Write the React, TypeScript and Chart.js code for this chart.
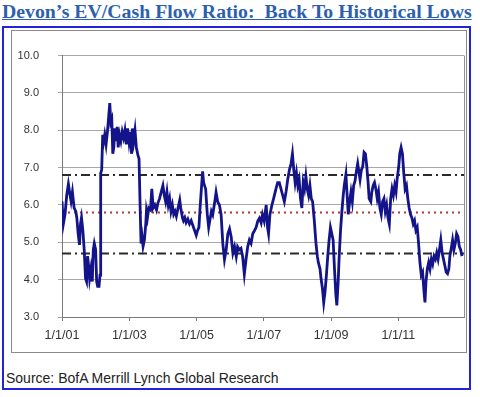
import React, { useEffect, useRef } from "react";
import { Chart, registerables } from "chart.js";

Chart.register(...registerables);

const titleText = "Devon’s EV/Cash Flow Ratio:  Back To Historical Lows";
const sourceText = "Source: BofA Merrill Lynch Global Research";

const tickYears = [2001, 2003, 2005, 2007, 2009, 2011];
const tickLabels = ["1/1/01", "1/1/03", "1/1/05", "1/1/07", "1/1/09", "1/1/11"];
const xMin = 2001;
const xMax = 2012.95;
const yMin = 3;
const yMax = 10;

const upperBand = 6.8;
const meanLevel = 5.8;
const lowerBand = 4.7;

const dates = [
  2001.0, 2001.04, 2001.09, 2001.14, 2001.19, 2001.24, 2001.27, 2001.31, 2001.36, 2001.41,
  2001.44, 2001.48, 2001.52, 2001.55, 2001.58, 2001.62, 2001.66, 2001.7, 2001.73, 2001.76,
  2001.79, 2001.82, 2001.86, 2001.9, 2001.93, 2001.96, 2002.0, 2002.03, 2002.06, 2002.1,
  2002.13, 2002.15, 2002.18, 2002.21, 2002.24, 2002.27, 2002.31, 2002.35, 2002.39, 2002.42,
  2002.45, 2002.48, 2002.51, 2002.54, 2002.57, 2002.6, 2002.64, 2002.67, 2002.71, 2002.75,
  2002.79, 2002.83, 2002.87, 2002.91, 2002.95, 2002.99, 2003.02, 2003.07, 2003.09, 2003.13,
  2003.17, 2003.21, 2003.26, 2003.29, 2003.33, 2003.35, 2003.38, 2003.41, 2003.45, 2003.49,
  2003.51, 2003.54, 2003.58, 2003.63, 2003.67, 2003.71, 2003.76, 2003.81, 2003.85, 2003.9,
  2003.95, 2004.0, 2004.04, 2004.08, 2004.12, 2004.16, 2004.2, 2004.24, 2004.28, 2004.32,
  2004.36, 2004.4, 2004.45, 2004.5, 2004.53, 2004.58, 2004.61, 2004.65, 2004.69, 2004.74,
  2004.79, 2004.84, 2004.89, 2004.94, 2004.99, 2005.03, 2005.07, 2005.11, 2005.15, 2005.18,
  2005.21, 2005.27, 2005.32, 2005.36, 2005.44, 2005.48, 2005.54, 2005.58, 2005.63, 2005.68,
  2005.73, 2005.78, 2005.83, 2005.88, 2005.93, 2005.98, 2006.03, 2006.08, 2006.13, 2006.18,
  2006.22, 2006.27, 2006.32, 2006.37, 2006.42, 2006.47, 2006.52, 2006.57, 2006.62, 2006.67,
  2006.72, 2006.77, 2006.82, 2006.87, 2006.92, 2006.96, 2007.01, 2007.07, 2007.11, 2007.14,
  2007.18, 2007.24, 2007.29, 2007.36, 2007.41, 2007.46, 2007.51, 2007.56, 2007.61, 2007.66,
  2007.71, 2007.76, 2007.81, 2007.85, 2007.89, 2007.93, 2007.97, 2008.01, 2008.05, 2008.09,
  2008.13, 2008.17, 2008.21, 2008.25, 2008.29, 2008.33, 2008.37, 2008.41, 2008.45, 2008.5,
  2008.55, 2008.59, 2008.62, 2008.67, 2008.7, 2008.74, 2008.78, 2008.82, 2008.86, 2008.9,
  2008.94, 2008.98, 2009.02, 2009.06, 2009.1, 2009.14, 2009.17, 2009.21, 2009.24, 2009.28,
  2009.32, 2009.36, 2009.39, 2009.44, 2009.47, 2009.51, 2009.55, 2009.59, 2009.63, 2009.67,
  2009.71, 2009.75, 2009.79, 2009.86, 2009.9, 2009.94, 2009.98, 2010.02, 2010.06, 2010.1,
  2010.13, 2010.18, 2010.21, 2010.25, 2010.29, 2010.33, 2010.37, 2010.41, 2010.45, 2010.49,
  2010.53, 2010.57, 2010.61, 2010.65, 2010.69, 2010.73, 2010.77, 2010.81, 2010.85, 2010.89,
  2010.93, 2010.96, 2011.01, 2011.04, 2011.08, 2011.12, 2011.16, 2011.2, 2011.24, 2011.28,
  2011.32, 2011.36, 2011.4, 2011.44, 2011.48, 2011.52, 2011.56, 2011.6, 2011.64, 2011.68,
  2011.72, 2011.76, 2011.79, 2011.82, 2011.86, 2011.9, 2011.94, 2011.98, 2012.02, 2012.06,
  2012.1, 2012.14, 2012.18, 2012.22, 2012.26, 2012.3, 2012.34, 2012.38, 2012.42, 2012.46,
  2012.5, 2012.53, 2012.58, 2012.61, 2012.65, 2012.69, 2012.73, 2012.77, 2012.81, 2012.85,
  2012.89,
];

const evCashFlow = [
  6.1, 5.49, 5.75, 6.26, 6.56, 6.26, 6.1, 6.35, 5.92, 5.83,
  5.66, 5.23, 4.93, 5.49, 5.66, 5.32, 4.8, 4.03, 3.95, 4.63,
  4.38, 4.03, 4.29, 3.95, 4.8, 4.97, 4.8, 3.95, 3.82, 3.82,
  4.12, 6.85, 6.94, 7.88, 7.71, 7.88, 7.62, 7.96, 8.39, 8.73,
  8.22, 8.3, 7.37, 7.54, 8.05, 7.71, 8.09, 7.54, 7.88, 7.71,
  7.96, 7.8, 8.0, 7.62, 8.05, 7.71, 7.96, 7.37, 8.05, 7.71,
  8.0, 7.54, 7.32, 7.24, 5.66, 4.97, 5.15, 4.89, 5.06, 5.49,
  5.83, 5.66, 5.92, 5.87, 6.43, 5.92, 6.0, 5.87, 6.05, 6.17,
  6.35, 6.52, 6.26, 6.09, 6.35, 6.0, 6.17, 5.83, 6.0, 5.75,
  5.83, 5.7, 5.92, 6.13, 5.92, 5.66, 5.58, 5.66, 5.53, 5.62,
  5.49, 5.58, 5.45, 5.32, 5.19, 5.32, 5.4, 6.0, 6.52, 6.9,
  6.6, 6.43, 5.74, 5.4, 5.83, 5.74, 6.08, 6.34, 6.08, 6.0,
  5.74, 4.97, 4.54, 4.8, 5.23, 5.36, 5.14, 4.71, 4.88, 4.62,
  4.88, 4.8, 4.84, 4.62, 4.15, 4.54, 4.88, 5.06, 4.97, 5.23,
  5.31, 5.4, 5.57, 5.65, 5.52, 5.74, 5.57, 6.0, 5.4, 5.23,
  5.74, 6.0, 6.17, 6.43, 6.6, 6.6, 6.43, 6.26, 6.09, 6.35,
  6.68, 6.94, 7.11, 7.37, 6.94, 6.6, 6.85, 6.52, 6.68, 6.17,
  5.92, 6.6, 6.43, 6.77, 6.43, 6.26, 6.52, 6.17, 6.09, 5.58,
  4.97, 4.63, 4.46, 4.29, 4.03, 3.78, 3.39, 3.69, 4.12, 4.63,
  5.06, 5.4, 5.23, 5.06, 4.29, 3.61, 3.31, 3.95, 4.63, 5.32,
  5.83, 6.26, 6.52, 6.82, 6.35, 5.75, 6.09, 6.35, 6.09, 6.52,
  6.64, 6.9, 7.11, 6.68, 6.94, 7.03, 7.41, 7.37, 7.03, 6.6,
  6.17, 6.09, 6.35, 6.52, 6.6, 6.43, 6.17, 6.35, 5.92, 5.75,
  6.09, 6.17, 5.83, 6.0, 5.66, 5.49, 6.17, 6.43, 6.26, 6.52,
  6.35, 6.68, 7.03, 7.37, 7.54, 7.37, 6.85, 6.43, 6.52, 6.17,
  5.92, 5.75, 5.66, 5.49, 5.58, 5.32, 5.4, 4.97, 4.46, 4.12,
  4.2, 3.69, 3.39, 3.95, 4.29, 4.46, 4.29, 4.55, 4.42, 4.63,
  4.55, 4.72, 4.55, 4.8, 5.06, 4.72, 4.55, 4.38, 4.2, 4.16,
  4.29, 4.63, 4.89, 5.06, 4.8, 4.97, 5.23, 5.15, 4.89, 4.8,
  4.63,
];

const rightBorderPlugin = {
  id: "rightBorder",
  beforeDatasetsDraw(chart: any) {
    const { ctx, chartArea } = chart;
    ctx.save();
    ctx.strokeStyle = "#8f8f8f";
    ctx.lineWidth = 1;
    ctx.beginPath();
    ctx.moveTo(Math.round(chartArea.right) + 0.5, chartArea.top);
    ctx.lineTo(Math.round(chartArea.right) + 0.5, chartArea.bottom);
    ctx.stroke();
    ctx.restore();
  },
};

export default function App() {
  const canvasRef = useRef<HTMLCanvasElement | null>(null);

  useEffect(() => {
    if (!canvasRef.current) return;
    const series = dates.map((d, i) => ({ x: d, y: evCashFlow[i] }));
    const band = (v: number) => [
      { x: xMin, y: v },
      { x: xMax, y: v },
    ];
    const chart = new Chart(canvasRef.current, {
      type: "line",
      data: {
        datasets: [
          {
            label: "EV/Cash Flow",
            data: series,
            borderColor: "#13138a",
            borderWidth: 2.8,
            pointRadius: 0,
            tension: 0,
            order: 0,
          },
          {
            label: "Upper",
            data: band(upperBand),
            borderColor: "#2a2a2a",
            borderWidth: 2,
            borderDash: [9, 4, 2, 4],
            pointRadius: 0,
            order: 1,
          },
          {
            label: "Mean",
            data: band(meanLevel),
            borderColor: "#b03a2e",
            borderWidth: 2,
            borderDash: [2, 4],
            pointRadius: 0,
            order: 1,
          },
          {
            label: "Lower",
            data: band(lowerBand),
            borderColor: "#2a2a2a",
            borderWidth: 2,
            borderDash: [9, 4, 2, 4],
            pointRadius: 0,
            order: 1,
          },
        ],
      },
      options: {
        animation: false,
        responsive: false,
        layout: { padding: { top: 14, right: 2, left: 0, bottom: 0 } },
        plugins: { legend: { display: false }, tooltip: { enabled: false } },
        scales: {
          x: {
            type: "linear",
            min: xMin,
            max: xMax,
            afterBuildTicks: (scale: any) => {
              scale.ticks = tickYears.map((v) => ({ value: v }));
            },
            afterFit: (scale: any) => {
              scale.height = 35;
            },
            grid: {
              drawOnChartArea: false,
              drawTicks: true,
              tickLength: 4,
              color: "#7a7a7a",
            },
            border: { color: "#7a7a7a", width: 1 },
            ticks: {
              autoSkip: false,
              maxRotation: 0,
              padding: 7,
              color: "#333",
              font: { family: "'Liberation Sans', Arial", size: 12.5 },
              callback: (v: any) => {
                const i = tickYears.indexOf(Number(v));
                return i >= 0 ? tickLabels[i] : "";
              },
            },
          },
          y: {
            min: yMin,
            max: yMax,
            afterFit: (scale: any) => {
              scale.width = 51;
            },
            grid: {
              color: "#a8a8a8",
              tickLength: 4,
            },
            border: { color: "#7a7a7a", width: 1 },
            ticks: {
              stepSize: 1,
              padding: 19,
              color: "#333",
              font: { family: "'Liberation Sans', Arial", size: 11 },
              callback: (v: any) => Number(v).toFixed(1),
            },
          },
        },
      },
      plugins: [rightBorderPlugin],
    });
    return () => chart.destroy();
  }, []);

  return (
    <div style={{ position: "absolute", left: 0, top: 0, width: 480, height: 397, background: "#fff", overflow: "hidden" }}>
      <div
        style={{
          position: "absolute",
          left: 2,
          top: 0,
          font: "bold 19.8px 'Liberation Serif', 'Times New Roman', serif",
          color: "#2d5fae",
          textDecoration: "underline",
          whiteSpace: "pre",
          lineHeight: "23px",
        }}
      >
        {titleText}
      </div>
      <div
        style={{
          position: "absolute",
          left: 2,
          top: 26,
          width: 465,
          height: 360,
          border: "2px solid #2323dd",
        }}
      />
      <div
        style={{
          position: "absolute",
          left: 11,
          top: 30,
          width: 454,
          height: 321,
          border: "1px solid #8a8a8a",
        }}
      />
      <canvas
        ref={canvasRef}
        width={455}
        height={322}
        style={{ position: "absolute", left: 11, top: 30, width: 455, height: 322 }}
      />
      <div
        style={{
          position: "absolute",
          left: 6,
          top: 370,
          font: "14px 'Liberation Sans', Arial, sans-serif",
          color: "#222",
          lineHeight: "16px",
          whiteSpace: "pre",
        }}
      >
        {sourceText}
      </div>
    </div>
  );
}
